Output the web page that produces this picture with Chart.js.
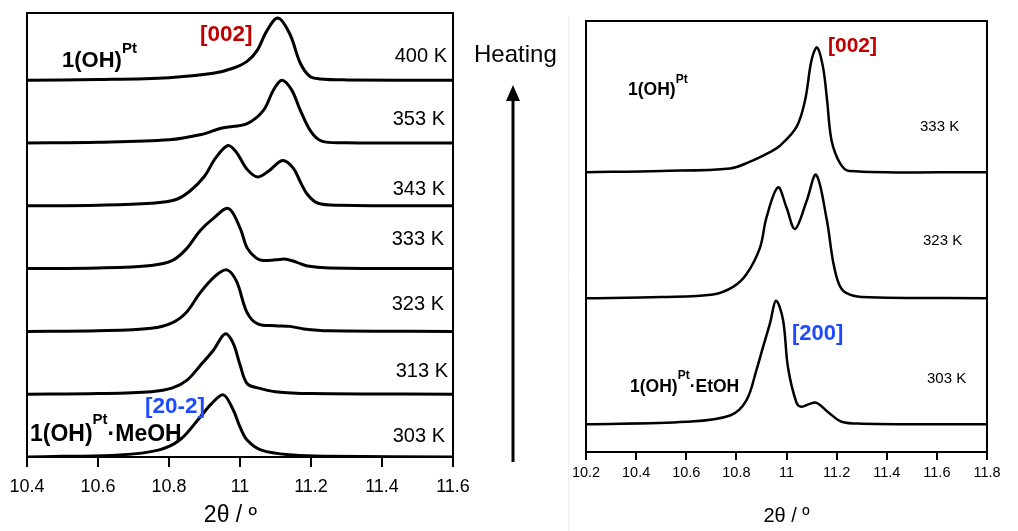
<!DOCTYPE html>
<html>
<head>
<meta charset="utf-8">
<script src="https://cdn.jsdelivr.net/npm/chart.js@4"></script>
<style>
  body { margin: 0; background: #fff; width: 1018px; height: 531px; position: relative; overflow: hidden; }
  canvas { position: absolute; top: 0; }
  #left { left: 0; }
  #right { left: 460px; }
</style>
</head>
<body>
<canvas id="left" width="480" height="531"></canvas>
<canvas id="right" width="558" height="531"></canvas>
<script>
// tick labels
const leftTickLabels = ['10.4', '10.6', '10.8', '11', '11.2', '11.4', '11.6'];
const rightTickLabels = ['10.2', '10.4', '10.6', '10.8', '11', '11.2', '11.4', '11.6', '11.8'];

// temperatures, bottom to top
const leftTemps = ['303 K', '313 K', '323 K', '333 K', '343 K', '353 K', '400 K'];
const rightTemps = ['303 K', '323 K', '333 K'];

// left panel: [2theta, normalised intensity]
const L303 = [[10.4,0],[10.5,0.01],[10.66,0.03],[10.77,0.11],[10.83,0.27],[10.887,0.63],[10.92,0.85],[10.953,0.99],[10.98,0.76],[11.0,0.48],[11.02,0.27],[11.06,0.11],[11.15,0.03],[11.25,0.01],[11.6,0]];
const L313 = [[10.4,0],[10.6,0.01],[10.75,0.04],[10.81,0.1],[10.85,0.22],[10.887,0.45],[10.925,0.7],[10.958,0.96],[10.98,0.82],[11.0,0.47],[11.02,0.17],[11.05,0.1],[11.1,0.04],[11.2,0.01],[11.6,0]];
const L323 = [[10.4,0],[10.6,0.01],[10.75,0.05],[10.81,0.14],[10.85,0.31],[10.887,0.61],[10.93,0.88],[10.963,0.98],[10.99,0.8],[11.02,0.3],[11.05,0.12],[11.1,0.09],[11.14,0.08],[11.18,0.04],[11.25,0.01],[11.6,0]];
const L333 = [[10.4,0],[10.6,0.01],[10.75,0.05],[10.81,0.13],[10.85,0.32],[10.887,0.6],[10.925,0.8],[10.967,0.96],[11.0,0.65],[11.02,0.33],[11.045,0.17],[11.065,0.13],[11.1,0.14],[11.13,0.15],[11.16,0.1],[11.19,0.04],[11.25,0.01],[11.6,0]];
const L343 = [[10.4,0],[10.6,0.01],[10.75,0.04],[10.82,0.1],[10.86,0.24],[10.9,0.47],[10.93,0.75],[10.966,0.96],[10.99,0.85],[11.02,0.58],[11.05,0.46],[11.08,0.55],[11.12,0.72],[11.15,0.6],[11.17,0.38],[11.19,0.18],[11.22,0.04],[11.28,0.01],[11.6,0]];
const L353 = [[10.4,0],[10.6,0.01],[10.8,0.05],[10.887,0.13],[10.95,0.24],[11.02,0.31],[11.066,0.52],[11.094,0.84],[11.118,1.0],[11.145,0.85],[11.17,0.52],[11.2,0.18],[11.23,0.03],[11.3,0.005],[11.6,0]];
const L400 = [[10.4,0],[10.6,0.01],[10.8,0.04],[10.925,0.11],[10.98,0.19],[11.02,0.3],[11.048,0.47],[11.076,0.79],[11.107,0.99],[11.14,0.74],[11.17,0.27],[11.197,0.06],[11.225,0.02],[11.3,0.005],[11.6,0]];

// right panel
const R303 = [[10.2,0],[10.6,0.02],[10.775,0.07],[10.84,0.19],[10.88,0.43],[10.906,0.61],[10.934,0.8],[10.958,0.98],[10.986,0.83],[11.006,0.45],[11.04,0.17],[11.06,0.14],[11.09,0.16],[11.12,0.17],[11.17,0.09],[11.22,0.02],[11.3,0.005],[11.8,0]];
const R323 = [[10.2,0],[10.5,0.01],[10.707,0.03],[10.787,0.09],[10.84,0.19],[10.894,0.4],[10.92,0.64],[10.966,0.88],[11.0,0.72],[11.034,0.55],[11.08,0.77],[11.118,0.98],[11.16,0.63],[11.186,0.29],[11.21,0.11],[11.24,0.04],[11.3,0.01],[11.8,0]];
const R333 = [[10.2,0],[10.5,0.01],[10.775,0.03],[10.85,0.08],[10.934,0.16],[10.974,0.21],[11.04,0.36],[11.074,0.57],[11.1,0.89],[11.122,0.99],[11.146,0.83],[11.162,0.57],[11.18,0.25],[11.214,0.07],[11.25,0.01],[11.8,0]];

const leftTraces = [L303, L313, L323, L333, L343, L353, L400];
const rightTraces = [R303, R323, R333];

Chart.defaults.font.family = '"Liberation Sans", Arial, sans-serif';
Chart.defaults.color = '#000';

function makeSets(traces, width) {
  return traces.map((pts, i) => ({
    data: pts.map(p => ({ x: p[0], y: p[1] + i })),
    borderColor: '#000',
    borderWidth: width,
    pointRadius: 0,
    fill: false,
    tension: 0.35
  }));
}

// draw text pieces one after another, with superscripts
function rich(ctx, x, y, parts, color) {
  ctx.save();
  ctx.fillStyle = color || '#000';
  ctx.textBaseline = 'alphabetic';
  ctx.textAlign = 'left';
  parts.forEach(p => {
    ctx.font = p[1] + ' "Liberation Sans", Arial, sans-serif';
    ctx.fillText(p[0], x, y + (p[2] || 0));
    x += ctx.measureText(p[0]).width;
  });
  ctx.restore();
}

function rightText(ctx, text, x, y, font) {
  ctx.save();
  ctx.font = font + ' "Liberation Sans", Arial, sans-serif';
  ctx.fillStyle = '#000';
  ctx.textAlign = 'right';
  ctx.textBaseline = 'alphabetic';
  ctx.fillText(text, x, y);
  ctx.restore();
}

const boxPlugin = {
  id: 'box',
  afterDatasetsDraw(chart) {
    const { ctx, chartArea: a } = chart;
    ctx.save();
    ctx.strokeStyle = '#000';
    ctx.lineWidth = 2;
    ctx.strokeRect(a.left, a.top, a.right - a.left, a.bottom - a.top);
    ctx.restore();
  }
};

function xScale(min, max, labels, fontSize, tickLen, pad, height, title, titleSize, titlePad) {
  return {
    type: 'linear',
    min: min,
    max: max,
    afterFit(s) { s.height = height; },
    afterBuildTicks(s) {
      s.ticks = labels.map(l => ({ value: parseFloat(l) }));
    },
    border: { display: false },
    grid: { drawOnChartArea: false, drawTicks: true, tickLength: tickLen, color: '#000', lineWidth: 2 },
    ticks: {
      autoSkip: false,
      maxRotation: 0,
      padding: pad,
      font: { size: fontSize },
      callback: (v, i) => labels[i]
    },
    title: {
      display: true,
      text: title,
      font: { size: titleSize },
      padding: { top: 0, bottom: titlePad }
    }
  };
}

// left chart: seven stacked patterns
new Chart(document.getElementById('left'), {
  type: 'line',
  data: { datasets: makeSets(leftTraces, 3) },
  options: {
    responsive: false,
    animation: false,
    devicePixelRatio: 1,
    layout: { padding: { left: 27, right: 27, top: 13, bottom: 0 } },
    plugins: { legend: { display: false }, tooltip: { enabled: false } },
    scales: {
      x: xScale(10.4, 11.6, leftTickLabels, 18, 10, 9, 74, '2θ / º\u00a0\u00a0\u00a0', 23, 2),
      y: { min: 0, max: 7.07, display: false }
    }
  },
  plugins: [boxPlugin, {
    id: 'notes',
    afterDraw(chart) {
      const ctx = chart.ctx;
      rich(ctx, 62, 67, [['1(OH)', 'bold 22px'], ['Pt', 'bold 15px', -14]]);
      rich(ctx, 200, 41, [['[002]', 'bold 22.5px']], '#c00000');
      rich(ctx, 145, 413, [['[20-2]', 'bold 22.5px']], '#1f4bff');
      rich(ctx, 30, 441, [['1(OH)', 'bold 23px'], ['Pt', 'bold 15px', -17], ['·MeOH', 'bold 23px']]);
      const ys = [442, 377, 310, 245, 195, 125, 62];
      const xs = [445, 448, 444, 444, 445, 445, 447];
      leftTemps.forEach((t, i) => rightText(ctx, t, xs[i], ys[i], '20px'));
    }
  }]
});

// right chart: three stacked patterns
new Chart(document.getElementById('right'), {
  type: 'line',
  data: { datasets: makeSets(rightTraces, 2.5) },
  options: {
    responsive: false,
    animation: false,
    devicePixelRatio: 1,
    layout: { padding: { left: 126, right: 31, top: 21, bottom: 0 } },
    plugins: { legend: { display: false }, tooltip: { enabled: false } },
    scales: {
      x: xScale(10.2, 11.8, rightTickLabels, 14.5, 8, 4, 79, '2θ / º', 20, 3),
      y: { min: -0.22, max: 3.2, display: false }
    }
  },
  plugins: [boxPlugin, {
    id: 'notes',
    beforeDraw(chart) {
      const ctx = chart.ctx;
      ctx.save();
      ctx.strokeStyle = '#f0f0f0';
      ctx.lineWidth = 1;
      ctx.beginPath();
      ctx.moveTo(108.5, 16);
      ctx.lineTo(108.5, 531);
      ctx.stroke();
      ctx.restore();
    },
    afterDraw(chart) {
      const ctx = chart.ctx;
      rich(ctx, 14, 62, [['Heating', '24px']]);
      // heating arrow
      ctx.save();
      ctx.strokeStyle = '#000';
      ctx.fillStyle = '#000';
      ctx.lineWidth = 3;
      ctx.beginPath();
      ctx.moveTo(53, 98);
      ctx.lineTo(53, 462);
      ctx.stroke();
      ctx.beginPath();
      ctx.moveTo(53, 85);
      ctx.lineTo(46, 101);
      ctx.lineTo(60, 101);
      ctx.closePath();
      ctx.fill();
      ctx.restore();

      rich(ctx, 368, 52, [['[002]', 'bold 21px']], '#c00000');
      rich(ctx, 332, 340, [['[200]', 'bold 22px']], '#1f4bff');
      rich(ctx, 168, 95, [['1(OH)', 'bold 17.5px'], ['Pt', 'bold 12px', -12]]);
      rich(ctx, 170, 392, [['1(OH)', 'bold 17.5px'], ['Pt', 'bold 12px', -13], ['·EtOH', 'bold 17.5px']]);
      const ys = [383, 245, 131];
      const xs = [467, 463, 460];
      rightTemps.forEach((t, i) => rich(ctx, xs[i], ys[i], [[t, '15px']]));
    }
  }]
});
</script>
</body>
</html>
